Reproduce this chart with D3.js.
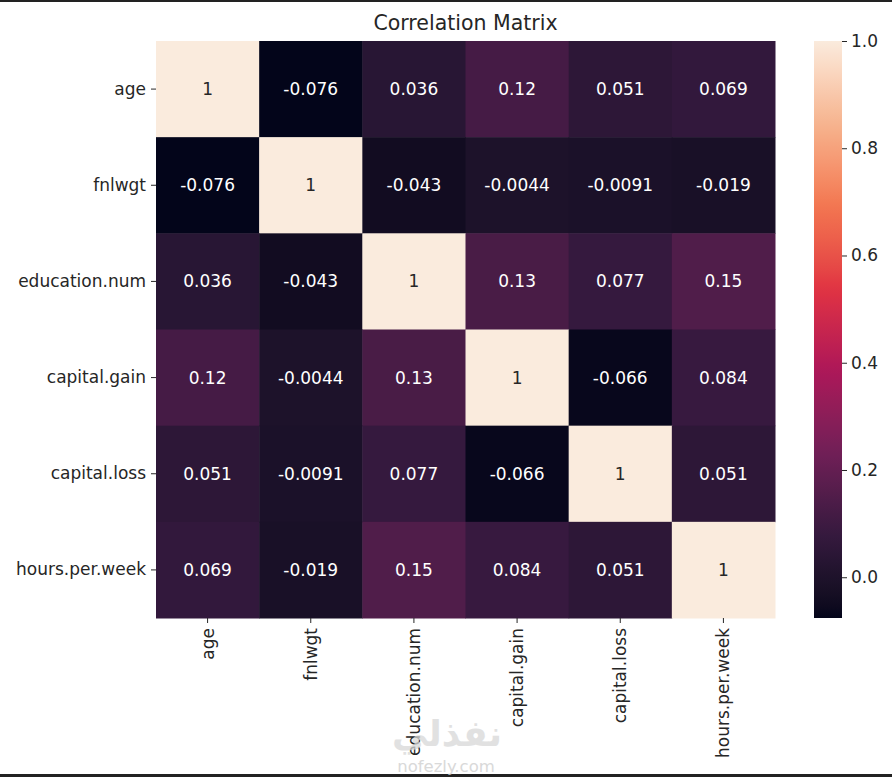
<!DOCTYPE html>
<html>
<head>
<meta charset="utf-8">
<script src="https://cdn.jsdelivr.net/npm/d3@7"></script>
<style>
  html, body { margin: 0; padding: 0; background: #fff; }
  svg { display: block; font-family: "DejaVu Sans", sans-serif; }
</style>
</head>
<body>
<svg id="chart" width="892" height="777"></svg>
<script>
// ---- data ----
const variables = ["age", "fnlwgt", "education.num", "capital.gain", "capital.loss", "hours.per.week"];
const corrAge      = [1, -0.076, 0.036, 0.12, 0.051, 0.069];
const corrFnlwgt   = [-0.076, 1, -0.043, -0.0044, -0.0091, -0.019];
const corrEdu      = [0.036, -0.043, 1, 0.13, 0.077, 0.15];
const corrGain     = [0.12, -0.0044, 0.13, 1, -0.066, 0.084];
const corrLoss     = [0.051, -0.0091, 0.077, -0.066, 1, 0.051];
const corrHours    = [0.069, -0.019, 0.15, 0.084, 0.051, 1];
const matrixRows   = [corrAge, corrFnlwgt, corrEdu, corrGain, corrLoss, corrHours];
const colorbarTicks = [0.0, 0.2, 0.4, 0.6, 0.8, 1.0];
const titleText = "Correlation Matrix";

// ---- layout ----
const svg = d3.select("#chart");
const W = 892, H = 777;
const plot = { left: 156, right: 775, top: 41, bottom: 618 };
const cbar = { left: 814, right: 842, top: 41, bottom: 618 };
const textColor = "#262626";

// frame lines (top/bottom of screenshot)
svg.append("rect").attr("x", 0).attr("y", 0).attr("width", W).attr("height", 2).attr("fill", "#222");
svg.append("rect").attr("x", 0).attr("y", 774).attr("width", W).attr("height", 3).attr("fill", "#222");

// rocket colormap approximation
const rocketStops = ["#03051a", "#35193e", "#701f57", "#ad1759", "#e13342", "#f37651", "#f6b48f", "#faebdd"];
const rocket = d3.scaleLinear()
  .domain(rocketStops.map((_, i) => i / (rocketStops.length - 1)))
  .range(rocketStops)
  .interpolate(d3.interpolateLab);

const flat = matrixRows.flat();
const vmin = d3.min(flat), vmax = d3.max(flat);
const norm = d3.scaleLinear().domain([vmin, vmax]).range([0, 1]).clamp(true);
const colorOf = v => rocket(norm(v));

const x = d3.scaleBand().domain(variables).range([plot.left, plot.right]);
const y = d3.scaleBand().domain(variables).range([plot.top, plot.bottom]);

const cells = [];
matrixRows.forEach((row, i) => row.forEach((v, j) => cells.push({ r: variables[i], c: variables[j], v })));

svg.append("g").selectAll("rect").data(cells).join("rect")
  .attr("x", d => x(d.c))
  .attr("y", d => y(d.r))
  .attr("width", x.bandwidth() + 0.5)
  .attr("height", y.bandwidth() + 0.5)
  .attr("fill", d => colorOf(d.v));

function luminance(c) {
  const rgb = d3.rgb(c);
  const f = ch => { ch /= 255; return ch <= 0.03928 ? ch / 12.92 : Math.pow((ch + 0.055) / 1.055, 2.4); };
  return 0.2126 * f(rgb.r) + 0.7152 * f(rgb.g) + 0.0722 * f(rgb.b);
}
const fmt = v => (v === 1 ? "1" : String(+v.toPrecision(2)));

svg.append("g").selectAll("text").data(cells).join("text")
  .attr("x", d => x(d.c) + x.bandwidth() / 2)
  .attr("y", d => y(d.r) + y.bandwidth() / 2)
  .attr("text-anchor", "middle")
  .attr("dominant-baseline", "central")
  .attr("font-size", 17)
  .attr("fill", d => luminance(colorOf(d.v)) > 0.408 ? textColor : "#ffffff")
  .text(d => fmt(d.v));

// axes
const axisFont = 17;
const yAxis = svg.append("g").attr("transform", `translate(${plot.left},0)`)
  .call(d3.axisLeft(y).tickSize(5).tickPadding(5));
yAxis.select(".domain").remove();
yAxis.selectAll("text").attr("font-size", axisFont).attr("fill", textColor).attr("font-family", "DejaVu Sans");
yAxis.selectAll("line").attr("stroke", textColor);

const xAxis = svg.append("g").attr("transform", `translate(0,${plot.bottom})`)
  .call(d3.axisBottom(x).tickSize(5).tickPadding(5));
xAxis.select(".domain").remove();
xAxis.selectAll("line").attr("stroke", textColor);
xAxis.selectAll("text")
  .attr("font-size", axisFont).attr("fill", textColor).attr("font-family", "DejaVu Sans")
  .attr("transform", "rotate(-90)")
  .attr("text-anchor", "end")
  .attr("dy", "0.35em")
  .attr("x", -10)
  .attr("y", 0);

// colorbar
const cy = d3.scaleLinear().domain([vmin, vmax]).range([cbar.bottom, cbar.top]);
const defs = svg.append("defs");
const grad = defs.append("linearGradient").attr("id", "cbgrad")
  .attr("x1", 0).attr("y1", 1).attr("x2", 0).attr("y2", 0);
d3.range(0, 1.0001, 0.02).forEach(t => {
  grad.append("stop").attr("offset", t).attr("stop-color", rocket(t));
});
svg.append("rect").attr("x", cbar.left).attr("y", cbar.top)
  .attr("width", cbar.right - cbar.left).attr("height", cbar.bottom - cbar.top)
  .attr("fill", "url(#cbgrad)");
const cAxis = svg.append("g").attr("transform", `translate(${cbar.right},0)`)
  .call(d3.axisRight(cy).tickValues(colorbarTicks).tickFormat(d3.format(".1f")).tickSize(5).tickPadding(4));
cAxis.select(".domain").remove();
cAxis.selectAll("text").attr("font-size", axisFont).attr("fill", textColor).attr("font-family", "DejaVu Sans");
cAxis.selectAll("line").attr("stroke", textColor);

// title
svg.append("text").attr("x", (plot.left + plot.right) / 2).attr("y", 30)
  .attr("text-anchor", "middle").attr("font-size", 20.5).attr("fill", textColor)
  .text(titleText);

// watermark
svg.append("text").attr("x", 447).attr("y", 746).attr("text-anchor", "middle")
  .attr("font-family", "DejaVu Sans").attr("font-weight", "bold").attr("font-size", 36)
  .attr("fill", "#d8d8d8").attr("opacity", 0.75).text("نفذلي");
svg.append("text").attr("x", 446).attr("y", 772).attr("text-anchor", "middle")
  .attr("font-family", "DejaVu Sans").attr("font-size", 16.5)
  .attr("fill", "#d0d0d0").attr("opacity", 0.8).text("nofezly.com");
</script>
</body>
</html>
